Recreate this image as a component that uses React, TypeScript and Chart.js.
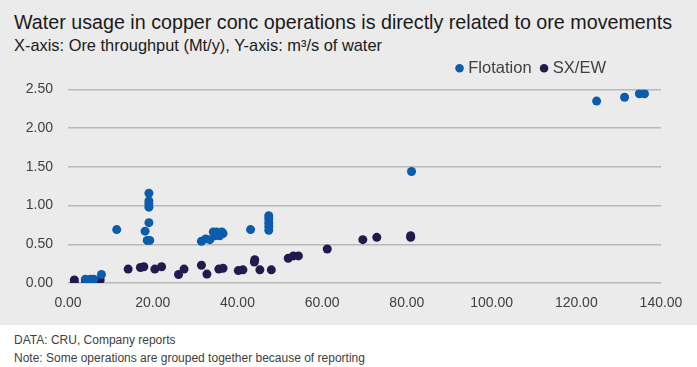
import React, { useEffect, useRef } from "react";
import { Chart, registerables } from "chart.js";

Chart.register(...registerables);

const titleText = "Water usage in copper conc operations is directly related to ore movements";
const subtitleText = "X-axis: Ore throughput (Mt/y), Y-axis: m\u00B3/s of water";
const sourceText = "DATA: CRU, Company reports";
const noteText = "Note: Some operations are grouped together because of reporting";

const seriesNames = ["Flotation", "SX/EW"];

const flotationX = [4.1, 5.3, 6.1, 7.9, 11.5, 18.2, 18.7, 19.3, 19.1, 19.1, 19.1, 19.1, 19.1,
  31.5, 32.5, 33.5, 34.3, 35.1, 36.3, 36.6, 34.7, 35.8, 43.1,
  47.4, 47.4, 47.4, 47.4, 47.4, 81.1, 124.8, 131.4, 134.9, 136.1];
const flotationY = [0.05, 0.05, 0.05, 0.11, 0.69, 0.67, 0.55, 0.55, 0.78, 0.98, 1.02, 1.06, 1.16,
  0.54, 0.57, 0.56, 0.66, 0.66, 0.66, 0.64, 0.61, 0.61, 0.69,
  0.87, 0.83, 0.78, 0.73, 0.68, 1.44, 2.35, 2.40, 2.445, 2.445];

const sxewX = [1.5, 1.5, 4.1, 7.6, 14.2, 17.1, 17.9, 20.5, 22.1, 26.1, 27.4, 31.5, 32.8, 35.6, 36.6,
  40.2, 41.3, 44.1, 44.0, 45.3, 48.0, 52.0, 53.2, 54.4, 61.2, 69.6, 72.9, 80.9, 80.9];
const sxewY = [0.04, 0.0, 0.03, 0.04, 0.18, 0.2, 0.21, 0.18, 0.21, 0.11, 0.18, 0.23, 0.115, 0.18, 0.19,
  0.16, 0.17, 0.30, 0.27, 0.17, 0.17, 0.32, 0.35, 0.35, 0.44, 0.56, 0.59, 0.59, 0.61];

const xMin = 0, xMax = 140, xStep = 20;
const yMin = 0, yMax = 2.5, yStep = 0.5;

const FONT = "'Liberation Sans', Arial, sans-serif";

export default function App() {
  const ref = useRef<HTMLCanvasElement>(null);
  useEffect(() => {
    document.body.style.margin = "0";
    if (!ref.current) return;
    const shiftLegend = {
      id: "shiftLegend",
      afterLayout(chart: any) {
        const lg = chart.legend;
        if (lg) {
          lg.left -= 43;
          lg.right -= 43;
          lg.top -= 3;
          lg.bottom -= 3;
        }
      },
    };
    const toPts = (xs: number[], ys: number[]) => xs.map((x, i) => ({ x, y: ys[i] }));
    const chart = new Chart(ref.current, {
      type: "scatter",
      data: {
        datasets: [
          {
            label: seriesNames[0],
            data: toPts(flotationX, flotationY),
            backgroundColor: "#0b5cab",
            borderColor: "#0b5cab",
            pointRadius: 4.5,
            pointBorderWidth: 0,
          },
          {
            label: seriesNames[1],
            data: toPts(sxewX, sxewY),
            backgroundColor: "#1f1b4e",
            borderColor: "#1f1b4e",
            pointRadius: 4.5,
            pointBorderWidth: 0,
          },
        ],
      },
      options: {
        animation: false,
        responsive: false,
        maintainAspectRatio: false,
        layout: { padding: { left: 0, right: 36, top: 3, bottom: 0 } },
        plugins: {
          legend: {
            position: "top",
            align: "end",
            labels: {
              usePointStyle: true,
              pointStyle: "circle",
              boxWidth: 1,
              boxHeight: 6,
              padding: 12,
              color: "#404040",
              font: { family: FONT, size: 16.5 },
            },
          },
          tooltip: { enabled: false },
        },
        scales: {
          x: {
            type: "linear",
            min: xMin,
            max: xMax,
            afterFit: (s: any) => { s.height = 42; },
            ticks: {
              stepSize: xStep,
              padding: 12,
              color: "#404040",
              font: { family: FONT, size: 14 },
              callback: (v: any) => Number(v).toFixed(2),
            },
            grid: { display: false, drawTicks: false },
            border: { display: false },
          },
          y: {
            type: "linear",
            min: yMin,
            max: yMax,
            afterFit: (s: any) => { s.width = 68; },
            ticks: {
              stepSize: yStep,
              padding: 15,
              color: "#404040",
              font: { family: FONT, size: 14 },
              callback: (v: any) => Number(v).toFixed(2),
            },
            grid: { color: "#b9b9b9", lineWidth: 1.5, drawTicks: false },
            border: { display: false },
          },
        },
      },
      plugins: [shiftLegend],
    });
    return () => chart.destroy();
  }, []);

  return (
    <div style={{ position: "relative", width: 697, height: 367, background: "#ffffff", fontFamily: FONT }}>
      <div style={{ position: "absolute", left: 0, top: 0, width: 697, height: 325, background: "#ebebeb" }} />
      <div style={{ position: "absolute", left: 14, top: 11, fontSize: 19.7, lineHeight: "23px", color: "#1a1a1a", whiteSpace: "nowrap" }}>
        {titleText}
      </div>
      <div style={{ position: "absolute", left: 14, top: 35, fontSize: 16.4, lineHeight: "20px", color: "#1a1a1a", whiteSpace: "nowrap" }}>
        {subtitleText}
      </div>
      <canvas
        ref={ref}
        width={697}
        height={277}
        style={{ position: "absolute", left: 0, top: 48, width: 697, height: 277 }}
      />
      <div style={{ position: "absolute", left: 14, top: 333, fontSize: 12, lineHeight: "14px", color: "#404040", whiteSpace: "nowrap" }}>
        {sourceText}
      </div>
      <div style={{ position: "absolute", left: 14, top: 351, fontSize: 12, lineHeight: "14px", color: "#404040", whiteSpace: "nowrap" }}>
        {noteText}
      </div>
    </div>
  );
}
